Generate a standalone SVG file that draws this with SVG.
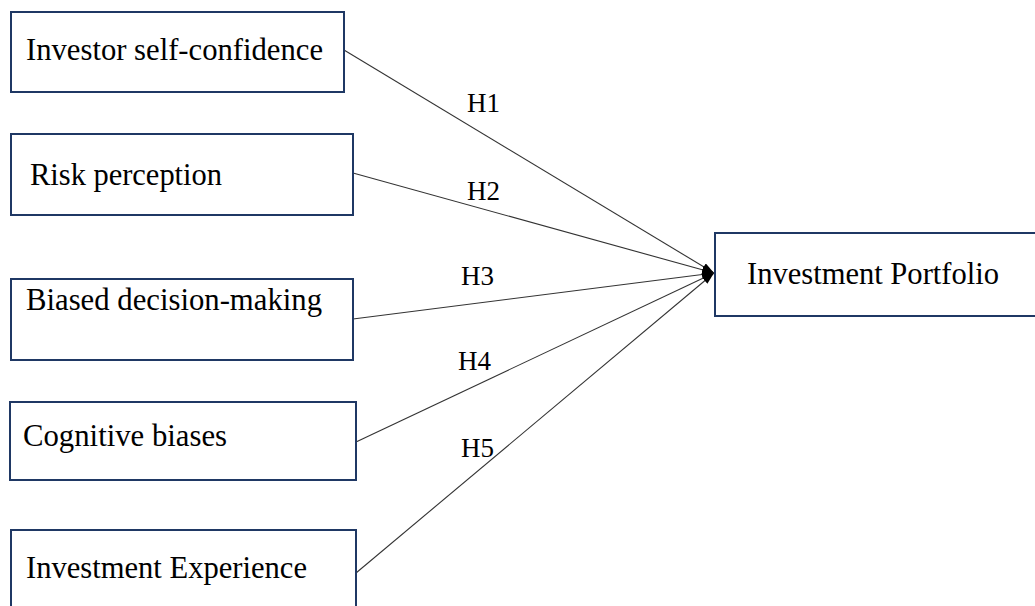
<svg xmlns="http://www.w3.org/2000/svg" width="1035" height="606" viewBox="0 0 1035 606">
<style>
.box{fill:#fff;stroke:#1f3864;stroke-width:2}
text{font-family:'Liberation Serif','Times New Roman',serif;fill:#000}
.t{font-size:30.5px}
.h{font-size:27px}
.c{stroke:#333;stroke-width:1.1;fill:none;marker-end:url(#ah)}
</style>
<defs>
<marker id="ah" viewBox="0 0 12 8" refX="12" refY="4" markerWidth="12" markerHeight="8" markerUnits="userSpaceOnUse" orient="auto">
<path d="M0,0 L12,4 L0,8 Z" fill="#000"/>
</marker>
</defs>
<rect width="1035" height="606" fill="#fff"/>
<g id="connectors">
<line class="c" x1="344" y1="50" x2="714" y2="273"/>
<line class="c" x1="353" y1="173" x2="714" y2="273"/>
<line class="c" x1="353" y1="319" x2="714" y2="273"/>
<line class="c" x1="356" y1="442" x2="714" y2="273"/>
<line class="c" x1="356" y1="573" x2="714" y2="273"/>
<text class="h" x="467" y="112">H1</text>
<text class="h" x="467" y="200">H2</text>
<text class="h" x="461" y="285">H3</text>
<text class="h" x="458" y="370">H4</text>
<text class="h" x="461" y="457">H5</text>
</g>
<g id="n1"><rect class="box" x="11" y="12" width="333" height="80"/><text class="t" x="26" y="60" textLength="297" lengthAdjust="spacingAndGlyphs">Investor self-confidence</text></g>
<g id="n2"><rect class="box" x="11" y="134" width="342" height="81"/><text class="t" x="30" y="185" textLength="192" lengthAdjust="spacingAndGlyphs">Risk perception</text></g>
<g id="n3"><rect class="box" x="11" y="279" width="342" height="81"/><text class="t" x="26" y="310" textLength="296" lengthAdjust="spacingAndGlyphs">Biased decision-making</text></g>
<g id="n4"><rect class="box" x="10" y="402" width="346" height="78"/><text class="t" x="23" y="446" textLength="204" lengthAdjust="spacingAndGlyphs">Cognitive biases</text></g>
<g id="n5"><rect class="box" x="11" y="530" width="345" height="90"/><text class="t" x="26" y="578" textLength="281" lengthAdjust="spacingAndGlyphs">Investment Experience</text></g>
<g id="n6"><rect class="box" x="715" y="233" width="330" height="83"/><text class="t" x="747" y="284" textLength="252" lengthAdjust="spacingAndGlyphs">Investment Portfolio</text></g>
</svg>
